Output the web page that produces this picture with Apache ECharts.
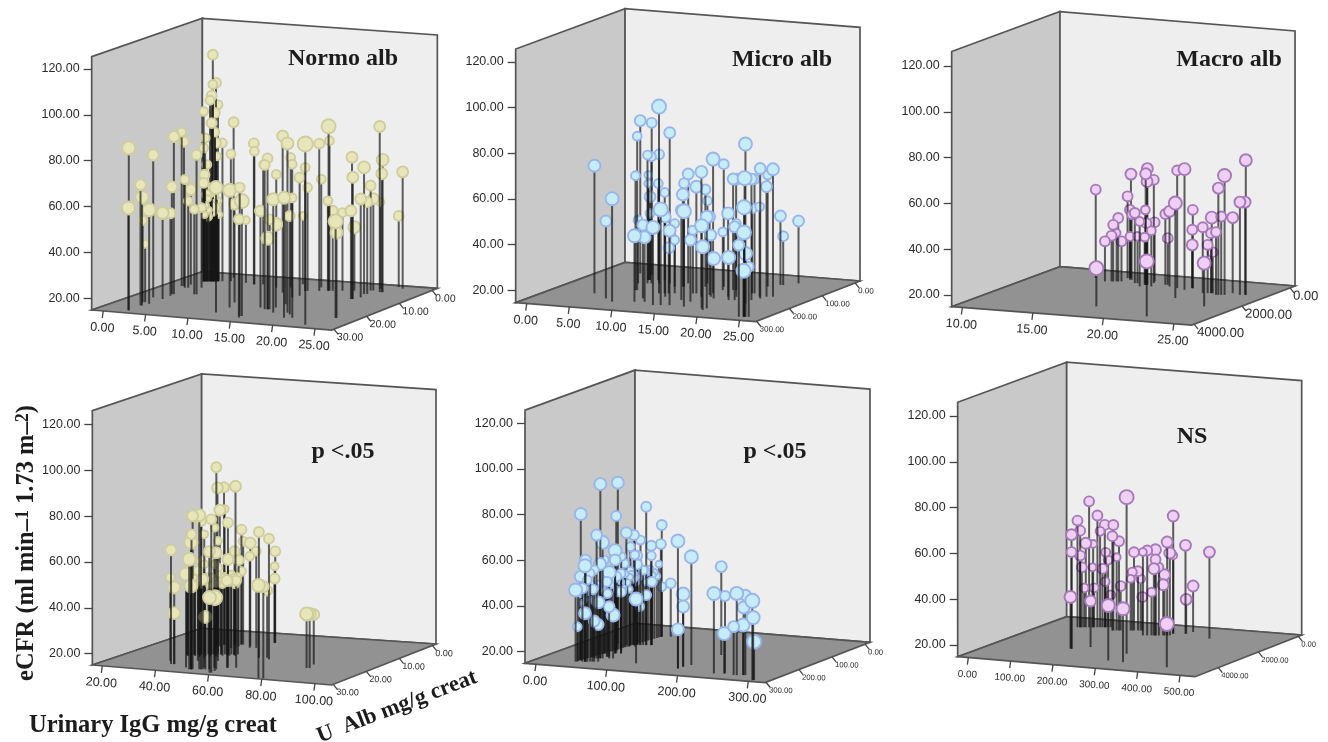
<!DOCTYPE html>
<html>
<head>
<meta charset="utf-8">
<style>html,body{margin:0;padding:0;background:#fff}#c{width:1328px;height:742px;filter:blur(0.45px)}</style>
<script src="https://cdn.jsdelivr.net/npm/echarts@6/dist/echarts.min.js"></script>
</head>
<body>
<div id="c"></div>
<script>
// Urinary x value, depth value (U Alb), eCFR, marker weight
const normoX=[2.25,2.2,2.06,2.2,1.6,1.35,2.44,1.06,2.42,2.3,1.98,2.18,.67,.9,1.45,1.15,1.78,4.21,4.44,3.09,1.5,1.64,1.5,1.8,1.6,1.5,1.8,2.3,1.9,2.4,2.7,2.4,2.3,2.1,2.9,2.6,2.3,2.6,2.7,3.35,11.25,2.8,11.23,3.55,4.2,14.45,10.38,14.67,14.79,6.13,7.37,7.43,14.26,8.29,15.42,15.12,15.45,15.62,10.5,16.85,15.77,19.23,12.48,18.26,11.91,14.74,15.87,18.93,20.05,15.03,23.08,14.25,14.5,12.24,15.66,14.94,16.58,16.65,16.5,17,24.33,24.4,17.97,21.01,21.1,21.2,19.12,21.55,21,21.3,20.76,21,22.09,22.4,22.3,21.3,22.67,23.5,1.7,1.9,2,2.2,2.4,2.5,2.6,2.8,2.9,1.6,3,2.1];
const normoZ=[28.8,28.8,24.9,24.8,22.4,22.5,23.3,18.7,19.3,16.7,15.5,15.4,9.4,9.3,10.4,7.9,10.2,14.4,14.3,9.5,5,4.9,5,4.8,5,5,4.8,4.6,4.8,4.5,4.3,4.5,4.6,4.6,4.2,4.4,4.6,4.4,4.3,4,25.5,4.3,21.4,1.2,3.6,26.5,17.8,26.4,27.6,3.9,4.6,4.6,19.8,4.1,20.6,20.7,20.6,20.5,5.7,22.5,19,25.3,8.7,21.8,4.9,11.5,16.3,22.8,24.9,10,28.7,6.4,6.3,2.1,5.7,3.3,5.2,5.1,5.2,5,22.7,22.6,4.5,9.6,9.5,9.5,3.8,8,5.6,5.4,3,2.8,3.6,3.5,3.5,1.4,-.7,.2,4.9,4.8,4.8,4.7,4.5,4.5,4.4,4.3,4.2,5,4.2,4.7];
const normoY=[85.7,59.5,67.5,62.1,40.3,50.5,55.9,77,52.4,50.9,61.7,83.6,82,77.8,62.1,56.3,52.7,52,75.7,49.8,73,77.4,89,65.8,61.4,57.8,52.7,47.3,43.2,113.7,101.4,100.7,95.9,93.8,91.9,88.3,83.9,79.9,75.2,75.2,69.4,69.4,66,82.8,70.4,70.9,57.8,65,57.8,42.2,76.4,73,57,67.2,80.7,77.8,45.9,54.1,64.3,64.3,51.2,67.2,83.2,88.7,71.6,73,61.4,57.8,67.2,66.5,93.7,68.7,60,44.7,79.1,62.1,86.6,80.3,54.1,49.8,57,52,49,53.4,76.7,68,42.5,57.8,70.1,54.9,60.7,54.9,87.1,72.6,66.5,52.7,45.9,65.8,48,51,46,53,49,45,52,47,50,44,44,56];
const normoW=[6,6,4,6,1,2,6,4,5,3,4,4,2,3,2,4,2,2,3,2,2,2,2,2,3,3,2,4,2,3,3,2,3,2,2,3,3,2,3,2,6,1,6,3,2,3,4,7,3,1,3,2,4,1,3,3,6,3,2,5,6,5,4,5,2,2,4,3,2,3,8,2,2,1,3,2,7,2,2,3,7,5,2,4,4,4,5,4,5,3,3,4,4,5,4,1,3,4,0,0,0,0,0,0,0,0,0,0,0,0];

const microX=[3.91,6.35,7.8,10,11,7.08,7.24,3.15,4.72,10.23,8.69,6.49,6.88,7.63,5.7,5.7,5.86,6.68,7.33,5.57,9.96,12.66,13.41,11.72,14.3,11.18,11.77,10.05,5.86,14.15,16.11,10.86,10.96,10.49,15.46,13.57,13.9,15.26,13.06,12.38,18.28,18.77,18.8,15.53,16.17,16.9,14.89,15.65,17.87,18.8,16.64,18.69,19.39,16.96,21.3,24.59,21.03,24.52,19.36,24.52,24.03,24.66,24.46,25,21.48,20.98,19.21,22.29,21.64,20.02,20.31,21.39,10.78,15.63,19.62];
const microZ=[202,229,247,236,231,160,159,49,54,169,99,110,108,104,88,88,87,83,80,115,210,248,244,188,240,164,161,118,87,201,243,114,113,89,207,152,150,169,102,79,245,242,255,141,164,174,93,115,155,177,109,151,174,108,190,277,165,277,121,277,280,276,277,275,150,139,70,132,135,52,51,32,166,154,120];
const microY=[70.5,48.5,59.7,43.5,42.8,64.7,82,81.5,81.3,96.4,80.6,70.8,70.1,71.1,60.6,56.9,51.1,56.9,53,42.3,46.7,48.6,56.5,49.6,47.2,34.6,38,42.3,43.8,54,56.4,55,59.9,62.5,41.6,42.3,61.3,69.3,57.2,50.8,50.8,54.7,42.3,73.4,41.6,32.1,68.3,40.1,51.1,33.3,63.2,46.7,46.7,63.2,84.4,75.3,67.6,62.5,51.8,51.5,46,42.3,34.7,36.5,71.5,54,63.5,70.4,62.8,44.8,36,41.9,49.6,48.9,64.7];
const microW=[5,4,6,6,5,2,2,4,3,7,4,2,2,3,1,1,4,2,2,2,4,6,7,4,5,4,2,2,2,4,7,5,3,4,4,2,5,5,3,2,6,5,6,6,4,6,3,2,5,6,4,2,4,4,6,7,4,7,3,7,4,6,7,3,4,2,2,5,4,4,3,4,2,4,3];

const macroX=[13.17,17.72,14.25,14.64,14.74,15.04,14.94,15.23,15.06,15.26,15.2,15.47,16.29,15.57,16.45,17.11,17.3,17.2,17.28,17.42,17.18,17.24,17.14,22.25,17.8,17.2,18.37,18.88,18.52,21.07,19.6,20.3,20.53,20.5,20.5,21.91,24.08,22.5,22.2,22.4,22.96,22.44,23.1,23.47,23.27,23.69,24.38,24.69,24.73];
const macroZ=[537,3078,769,722,710,675,686,651,309,285,292,442,706,430,687,970,765,777,767,570,779,772,784,3620,887,413,637,756,625,1765,851,949,740,745,745,1118,2310,1047,1083,1059,1173,1052,1157,1113,1137,904,1002,964,959];
const macroY=[53.5,31.6,32.4,34.8,39.6,42.6,36,32.4,50.6,60.3,44.7,33.8,45.5,43.3,35.3,43.3,65.6,63.4,60,60,47.6,41.8,35.7,38.9,39.2,40.7,45.8,47.7,35.3,56.4,66.3,67.6,49.1,40.4,33.8,43.7,33.8,32.8,36,41.1,42.3,47.9,61.5,67,49.1,47.9,55.4,55.4,73.7];
const macroW=[3,7,3,3,3,3,1,3,3,4,3,2,3,2,2,2,4,4,4,3,2,3,2,7,2,3,3,4,3,6,3,5,3,3,4,3,6,3,3,3,3,5,4,6,3,4,4,4,5];

const iggNormoX=[39.27,36.17,40.37,40.37,46.87,49.9,49.37,49.9,50.1,50.4,52.52,53.57,53.04,59.09,54.42,58.56,58.69,55.67,57.77,36.1,36.41,38.51,43.54,38.6,38.75,48.45,60,59.8,62.62,41.88,44.59,43.98,43.98,44.5,48.26,51.59,49.49,61.1,65.69,53.25,53.04,53.04,78.12,79.69,63.73,84.67,84.1,85.7,40.05,42.41,46.35,44.78,55.8,51.08,52.6,44.25,43.72,43.99,35.8,36.9,37.9,39.2,40,41.1,42.3,43.2,44.1,45.3,46.5,47.4,48.4,49.5,50.5,51.6,36.4,37.4,38.6,39.6,40.6,41.7,42.7,43.7,44.7,45.9,47,47.9,49,50,51,52];
const iggNormoZ=[25.4,23.2,25.3,25.3,26.9,27.8,27.9,27.8,27.8,27.7,27.4,27.2,27.3,29,27.1,29.1,27.7,26.9,26.5,9.7,9.6,9.3,9.8,10.6,9.3,15.8,24.8,24.9,24.4,8.8,9.7,8.4,8.4,8.3,9.1,9.9,10.2,16.5,17.1,5.6,5.6,5.6,30,29.8,16.1,20.8,18.2,20.7,17.2,14.1,16.2,21.8,25.5,20.8,26,16.5,11.2,19.3,17.9,17.6,17.5,17.4,17.1,17,16.8,16.6,16.5,16.3,16.2,15.9,15.8,15.6,15.5,15.3,18.5,19,18,18.6,17.9,19,18,17,18.2,17.5,18,17,16.5,16.6,16,16.4];
const iggNormoY=[64.8,51.4,48.5,37.3,55.8,51.4,63,70.3,73.9,81.9,82.2,54.3,79.7,81.9,37.9,47.8,47,66.4,65.9,92.4,83.4,83.7,84.8,74.4,74.2,72.5,62.3,53.1,53.1,55.8,52.6,65.2,47,60.1,60.1,57.2,55,69.9,67.7,55,48.5,43.1,55.5,55,44.4,38.6,36.9,38.6,55.8,51.4,48.5,54.3,76.1,67.4,73.2,54.3,47,55.8,47,49,46,48,50,47,49,46,48,50,47,49,46,48,47,49,46,48,47,49,46,48,47,49,46,48,47,46,48,47,49,46];
const iggNormoW=[4,2,5,5,6,6,6,6,3,4,5,4,3,3,5,6,8,4,4,3,4,3,4,4,1,3,4,4,3,3,3,3,2,2,4,2,2,3,3,3,1,3,6,4,3,6,4,5,2,2,2,2,1,1,1,1,1,1,0,0,0,0,0,0,0,0,0,0,0,0,0,0,0,0,0,0,0,0,0,0,0,0,0,0,0,0,0,0,0,0];

const iggMicroX=[38,38.6,37.8,49.7,48.9,45.8,48.9,57.6,54.8,59.5,64.2,51.8,56.1,58.8,55.7,54,49,61.3,58.6,66.6,71.3,57.6,57.6,43.1,29.2,58.8,64.6,44.3,49,53.3,48.2,52.1,113.6,59.9,56.8,56.8,61.1,67.8,63.9,73.6,73.6,74.4,67.8,59.2,58.4,59.2,70.1,178.2,178.2,178.9,178.9,183.4,235.8,187.2,248.7,248,263.8,267.7,277.5,275.5,274.8,301,302.2,303,39.9,59.4,64.6,47.5,59.3,54.1,45.1,51.7,39,40.2,41,42.5,43.3,44.5,45.2,46.6,47.5,48.5,49.3,50.6,51.4,52.5,53.2,54.6,55.3,56.4,57.6,41,44,47,50,53,38.5,39.6,40.6,41.8,42.9,43.9,44.9,46,47,48,48.9,50,51,52,52.9,54,55,56,57,58];
const iggMicroZ=[266,252,252,261,261,262,261,257,258,256,254,233,231,230,231,232,234,216,217,227,225,191,191,158,125,190,188,131,129,127,129,127,245,124,125,125,124,121,122,118,118,118,121,58,59,58,54,256,256,242,242,227,270,146,264,265,270,269,264,265,265,293,293,292,265,217,188,143,137,166,197,260,256,246,236,224,213,203,193,181,172,162,151,141,130,120,110,99,90,80,69,255,230,200,170,140,260,250,240,229,218,208,198,187,177,167,156,146,135,125,115,104,95,85,75,64];
const iggMicroY=[46.3,78.8,51.4,59.4,56.9,47,36.1,46.6,53.6,32.7,31.2,68.9,91.2,65.7,56.2,39.4,53.6,51.8,47.7,37.5,33.9,59.9,55.8,72.9,85.3,48.5,41.9,64.1,58,63.1,46.7,44.1,43.1,31.7,54,50.2,60.9,75.5,47.7,58.4,54,42.6,36.8,63.8,55.5,36.8,38.3,70.7,32,46.7,41.2,62.3,49.9,53.6,48.8,32.4,36.1,50.7,49.9,44.5,36.8,49.6,42.3,31.7,30.2,42.6,49.9,51.4,55,55.8,55.8,50.7,44,41,45,42,46,43,40,44,42,45,41,43,46,42,44,41,45,43,42,40,40,41,40,40,45,46,44,47,45,46,44,47,45,46,44,47,45,46,44,47,45,46,44,47];
const iggMicroW=[6,5,4,4,6,3,5,3,2,4,4,4,5,6,5,5,2,6,3,4,6,6,4,3,5,3,3,4,2,3,4,2,6,2,3,3,2,3,2,3,2,3,3,3,3,2,3,6,5,6,5,6,6,4,3,6,4,6,4,5,6,7,6,7,2,2,2,2,2,2,2,2,0,0,0,0,0,0,0,0,0,0,0,0,0,0,0,0,0,0,0,0,0,0,0,0,0,0,0,0,0,0,0,0,0,0,0,0,0,0,0,0,0,0,0,0];

const iggMacroX=[153.3,153.3,151.3,52.5,57.7,57.7,60.9,68.7,65.5,75.2,181.8,81.8,83.1,85,91.5,96.7,101.3,105.9,107.8,106.5,112.4,285.1,117.6,140,138.1,146.5,151.1,154.3,322.4,286.6,173.9,180.4,177.1,188.2,193.4,196.7,223.8,232.2,248.5,248.5,245.3,255,240.7,266.1,263.5,271.3,276.5,274.5,274.5,433.5,298.6,299.9,304.9,371.3];
const iggMacroZ=[3281,3281,3290,901,878,878,863,828,843,799,2935,770,764,755,726,703,683,662,653,659,633,4215,610,945,954,916,895,881,4266,3338,794,764,779,729,706,692,1224,1186,1113,1113,1128,1084,1148,1034,1046,1011,988,779,779,4422,671,665,425,999];
const iggMacroY=[64.7,57.1,37.5,61.5,57.1,46.2,41.1,51.6,32.1,69.9,35,41.1,51.3,32.1,63.7,56.8,40.4,59.6,47.6,34.8,44.3,38.9,29,61,56.1,46.9,53.9,34.3,38.2,83.3,37.5,49.1,40.4,40.8,37.5,29.5,51.3,52,52.3,48.1,44,44.7,33.8,41.4,37,55.7,50.9,66.3,49.1,33.8,53.5,29.9,35,52.7];
const iggMacroW=[4,3,5,3,3,3,3,4,2,3,4,1,1,2,3,2,3,3,2,2,2,6,2,3,3,1,3,3,6,7,1,3,2,3,2,3,1,3,4,3,4,2,2,4,4,4,4,4,1,7,4,4,4,4];

const yTicks=[20,40,60,80,100,120];
const ticksX1=[0,5,10,15,20,25], ticksZ1=[0,10,20,30];
const ticksX2=[0,5,10,15,20,25], ticksZ2=[0,100,200,300];
const ticksX3=[10,15,20,25],     ticksZ3=[0,2000,4000];
const ticksX4=[20,40,60,80,100], ticksZ4=[0,10,20,30];
const ticksX5=[0,100,200,300],   ticksZ5=[0,100,200,300];
const ticksX6=[0,100,200,300,400,500], ticksZ6=[0,2000,4000];
const panelTitles=['Normo alb','Micro alb','Macro alb','p <.05','p <.05','NS'];

const BEIGE={fill:'#e7e6bb',stroke:'#cfcd9c'}, BLUE={fill:'#c6ecf8',stroke:'#98b6ea'}, PINK={fill:'#efcff3',stroke:'#a679b8'};

const panels=[
 {X:normoX,Z:normoZ,Y:normoY,W:normoW,tx:ticksX1,tz:ticksZ1,col:BEIGE,grid:[91.67,69,240,229.33],xlo:-1.37,xhi:26.97,zlo:-1.6,zhi:30.7,ylo:14.9,yhi:125.4,frY:6.18,bl:[11.7,31.6],br:[39.45,24.35],fx:12.5,fz:10.5,title:[343,59]},
 {X:microX,Z:microZ,Y:microY,W:microW,tx:ticksX2,tz:ticksZ2,col:BLUE,grid:[515.67,62,240,228.33],xlo:-1.3,xhi:26.9,zlo:-15,zhi:303,ylo:14.6,yhi:125.7,frY:6.28,bl:[11.55,32.26],br:[39.16,24.09],fx:12.5,fz:8,title:[782,60]},
 {X:macroX,Z:macroZ,Y:macroY,W:macroW,tx:ticksX3,tz:ticksZ3,col:PINK,grid:[951.67,66,240,229],xlo:9.24,xhi:26.26,zlo:-207,zhi:4100,ylo:14.9,yhi:126.3,frY:6.89,bl:[16.92,32.37],br:[33.59,23.92],fx:12.5,fz:13,title:[1229,60]},
 {X:iggNormoX,Z:iggNormoZ,Y:iggNormoY,W:iggNormoW,tx:ticksX4,tz:ticksZ4,col:BEIGE,grid:[92.33,424.33,239.33,229.33],xlo:16.24,xhi:106.3,zlo:-1.1,zhi:30.5,ylo:15.06,yhi:126,frY:6.34,bl:[57.38,31.05],br:[145.56,24.22],fx:12.5,fz:9,title:[343,452]},
 {X:iggMicroX,Z:iggMicroZ,Y:iggMicroY,W:iggMicroW,tx:ticksX5,tz:ticksZ5,col:BLUE,grid:[525,423.33,240,228.33],xlo:-15.5,xhi:323.6,zlo:-15,zhi:303,ylo:14.9,yhi:125.8,frY:6.43,bl:[139.9,32.42],br:[471.95,24.1],fx:12.5,fz:7.7,title:[775,452]},
 {X:iggMacroX,Z:iggMacroZ,Y:iggMacroY,W:iggMacroW,tx:ticksX6,tz:ticksZ6,col:PINK,grid:[957.67,416,237.33,229],xlo:-25.2,xhi:535.4,zlo:-167,zhi:5167,ylo:14.9,yhi:126,frY:6.17,bl:[232.3,32.37],br:[787.4,24.36],fx:10,fz:7.5,title:[1192,437]}
];

// oblique 3D -> the 2D axis units of the panel's own cartesian
function proj(c,x,z,y){
  const u=(x-c.xlo)/(c.xhi-c.xlo), v=(c.zhi-z)/(c.zhi-c.zlo);
  const b=(a,d,e,f)=>a*(1-u)*(1-v)+d*u*(1-v)+e*(1-u)*v+f*u*v;
  return [b(c.xlo,c.xhi,c.bl[0],c.br[0]), b(c.ylo,c.frY,c.bl[1],c.br[1])+(y-c.ylo)];
}

const LABEL='Liberation Sans, Arial, sans-serif';
const EDGE='#555555';

function boxRender(c){
  return function(params,api){
    const P=(x,z,y)=>api.coord(proj(c,x,z,y));
    const a=P(c.xlo,c.zhi,c.ylo), b=P(c.xhi,c.zhi,c.ylo), d=P(c.xlo,c.zlo,c.ylo), e=P(c.xhi,c.zlo,c.ylo);
    const at=P(c.xlo,c.zhi,c.yhi), dt=P(c.xlo,c.zlo,c.yhi), et=P(c.xhi,c.zlo,c.yhi);
    const wall=(pts,fill)=>({type:'polygon',shape:{points:pts},style:{fill,stroke:EDGE,lineWidth:1.7}});
    const kids=[wall([a,at,dt,d],'#c9c9c9'),wall([d,dt,et,e],'#eeeeee'),wall([a,b,e,d],'#929292')];
    const tick=(p,dx,dy)=>({type:'line',shape:{x1:p[0],y1:p[1],x2:p[0]+dx,y2:p[1]+dy},style:{stroke:'#444',lineWidth:1.3}});
    c.tx.forEach(t=>{
      const p=P(t,c.zhi,c.ylo);
      kids.push(tick(p,-1,7));
      kids.push({type:'text',x:p[0]-1,y:p[1]+17,rotation:-0.07,style:{text:t.toFixed(2),fill:'#2b2b2b',fontFamily:LABEL,fontSize:c.fx,textAlign:'center',textVerticalAlign:'middle'}});
    });
    c.tz.forEach(t=>{
      const p=P(c.xhi,t,c.ylo);
      kids.push(tick(p,4,5));
      kids.push({type:'text',x:p[0]+3,y:p[1]+8,rotation:-0.03,style:{text:t.toFixed(2),fill:'#2b2b2b',fontFamily:LABEL,fontSize:c.fz,textAlign:'left',textVerticalAlign:'middle'}});
    });
    return {type:'group',children:kids};
  };
}
function pointRender(c){
  return function(params,api){
    const x=api.value(0),z=api.value(1),y=api.value(2),w=api.value(3);
    const base=api.coord(proj(c,x,z,c.ylo)), top=api.coord(proj(c,x,z,y));
    return {type:'group',children:[
      {type:'line',shape:{x1:base[0],y1:base[1],x2:top[0],y2:top[1]},style:{stroke:'rgba(20,20,20,0.68)',lineWidth:2}},
      {type:'circle',shape:{cx:top[0],cy:top[1],r:3.4+w*0.52},style:{fill:c.col.fill,stroke:c.col.stroke,lineWidth:1.9}}
    ]};
  };
}

const grid=[],xAxis=[],yAxis=[],series=[],title=[];
panels.forEach((c,i)=>{
  grid.push({left:c.grid[0],top:c.grid[1],width:c.grid[2],height:c.grid[3],containLabel:false});
  xAxis.push({gridIndex:i,type:'value',min:c.xlo,max:c.xhi,show:false});
  yAxis.push({gridIndex:i,type:'value',min:yTicks[0],max:yTicks[yTicks.length-1],interval:20,z:5,
    axisLine:{show:false,onZero:false},splitLine:{show:false},
    axisTick:{show:true,length:8,lineStyle:{color:'#444',width:1.3}},
    axisLabel:{margin:12,formatter:v=>v.toFixed(2),color:'#2b2b2b',fontFamily:LABEL,fontSize:12.5}});
  series.push({type:'custom',xAxisIndex:i,yAxisIndex:i,silent:true,clip:false,z:1,data:[[c.xlo,c.zhi,c.ylo]],encode:{x:0,y:2},renderItem:boxRender(c)});
  const rows=c.X.map((x,k)=>[x,c.Z[k],c.Y[k],c.W[k]]).sort((p,q)=>p[1]-q[1]);
  series.push({type:'custom',xAxisIndex:i,yAxisIndex:i,silent:true,clip:false,z:2,data:rows,encode:{x:0,y:2},renderItem:pointRender(c)});
  title.push({text:panelTitles[i],left:c.title[0],top:c.title[1],padding:0,textAlign:'center',textVerticalAlign:'middle',
    textStyle:{fontFamily:'Liberation Serif, serif',fontWeight:'bold',fontSize:24,color:'#1c1c1c'}});
});

const SERIF='Liberation Serif, serif';
const chart=echarts.init(document.getElementById('c'),null,{renderer:'canvas'});
chart.setOption({animation:false,backgroundColor:'#fff',tooltip:{show:false},legend:{show:false},grid,xAxis,yAxis,series,title,
 graphic:[
  {type:'text',x:27,y:543,rotation:Math.PI/2,z:10,style:{
    text:'{a|eCFR (ml min–}{s|1}{a| 1.73 m–}{s|2}{a|)}',textAlign:'center',textVerticalAlign:'middle',
    rich:{a:{fontFamily:SERIF,fontWeight:'bold',fontSize:24.5,fill:'#1c1c1c'},s:{fontFamily:SERIF,fontWeight:'bold',fontSize:18,fill:'#1c1c1c',verticalAlign:'top'}}}},
  {type:'text',x:153,y:726,z:10,style:{text:'Urinary IgG mg/g creat',textAlign:'center',textVerticalAlign:'middle',fontFamily:SERIF,fontWeight:'bold',fontSize:24.5,fill:'#1c1c1c'}},
  {type:'text',x:397,y:707,rotation:21*Math.PI/180,z:10,style:{text:'U  Alb mg/g creat',textAlign:'center',textVerticalAlign:'middle',fontFamily:SERIF,fontWeight:'bold',fontSize:22.5,fill:'#1c1c1c'}}
 ]});
</script>
</body>
</html>
